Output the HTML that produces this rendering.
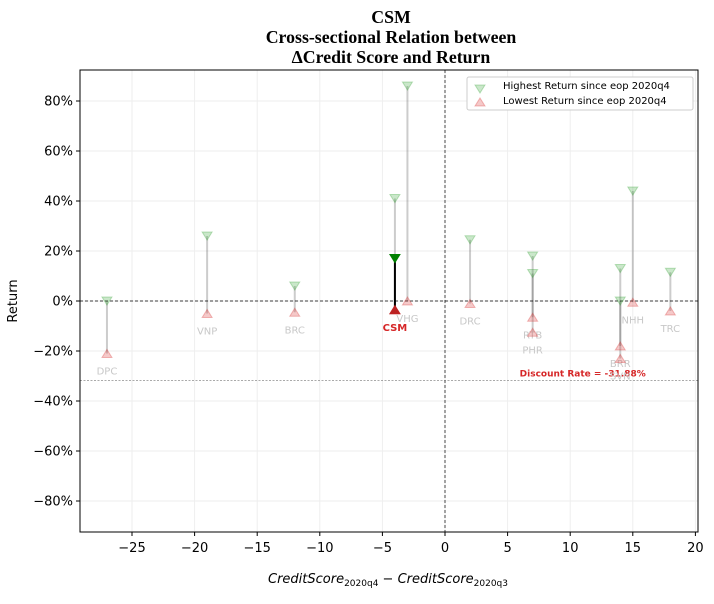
<!DOCTYPE html>
<html><head><meta charset="utf-8"><style>
body{margin:0;background:#fff;}
svg text{font-family:"DejaVu Sans","Liberation Sans",sans-serif;}
</style></head><body>
<svg id="chart" width="714" height="599" viewBox="0 0 714 599">
<g id="title" font-weight="bold" font-size="17.8" text-anchor="middle">
<text x="391" y="23" style="font-family:'Liberation Serif',serif">CSM</text>
<text x="391" y="43" style="font-family:'Liberation Serif',serif">Cross-sectional Relation between</text>
<text x="391" y="63" style="font-family:'Liberation Serif',serif">ΔCredit Score and Return</text>
</g>
<g id="grid"></g><g id="axes"></g><g id="marks"></g>
<rect x="80" y="70" width="618" height="462" fill="none" stroke="#000" stroke-width="1"/>
<text x="17" y="301" font-size="13" text-anchor="middle" transform="rotate(-90 17 301)">Return</text>
<text x="388" y="583" font-size="13" text-anchor="middle" font-style="italic">CreditScore<tspan font-size="9" dy="3" font-style="normal">2020q4</tspan><tspan dy="-3"> − CreditScore</tspan><tspan font-size="9" dy="3" font-style="normal">2020q3</tspan></text>
<g>
<rect x="467" y="77" width="226" height="33" rx="2" fill="#fff" stroke="#ccc"/>
<polygon points="475,85 485,85 480,93" fill="#2ca02c" fill-opacity="0.25" stroke="#2ca02c" stroke-opacity="0.3"/>
<text x="503" y="89" font-size="10">Highest Return since eop 2020q4</text>
<polygon points="475,106 485,106 480,98" fill="#d62728" fill-opacity="0.25" stroke="#d62728" stroke-opacity="0.3"/>
<text x="503" y="104" font-size="10">Lowest Return since eop 2020q4</text>
</g>
</svg>
<script>
const tickers=["DPC","VNP","BRC","CSM","X1","VHG","DRC","RTB","PHR","BRR","SVN","NHH","TRC"];
const deltas=[-27,-19,-12,-4,-4,-3,2,7,7,14,14,15,18];
const highs=[0,26,6,17,41,86,24.5,18,11,13,0,44,11.5];
const lows=[-21,-5,-4.5,-3.5,-3.5,0,-1,-6.5,-12.5,-18,-23,-0.5,-4];
const xTicks=[-25,-20,-15,-10,-5,0,5,10,15,20];
const yTicks=[-80,-60,-40,-20,0,20,40,60,80];
const discountRate=-31.88;
const focus="CSM";
const NS="http://www.w3.org/2000/svg";
const X=v=>445+v*12.52, Y=v=>301-v*2.5;
function mk(t,a,p){const e=document.createElementNS(NS,t);for(const k in a)e.setAttribute(k,a[k]);p.appendChild(e);return e;}
const grid=document.getElementById('grid'),axes=document.getElementById('axes'),marks=document.getElementById('marks');
xTicks.forEach(t=>{
 let g=mk('line',{x1:X(t),x2:X(t),y1:70,y2:532,stroke:'#eee','stroke-width':1},grid);
 
 
 mk('line',{x1:X(t),x2:X(t),y1:532,y2:536,stroke:'#000'},axes);
 let l=mk('text',{x:X(t),y:552,'font-size':13,'text-anchor':'middle'},axes);l.textContent=(t<0?'−':'')+Math.abs(t);
 
 
});
yTicks.forEach(t=>{
 let g=mk('line',{x1:80,x2:698,y1:Y(t),y2:Y(t),stroke:'#eee','stroke-width':1},grid);
 
 
 mk('line',{x1:76,x2:80,y1:Y(t),y2:Y(t),stroke:'#000'},axes);
 let l=mk('text',{x:73,y:Y(t)+4.5,'font-size':13,'text-anchor':'end'},axes);l.textContent=(t<0?'−':'')+Math.abs(t)+'%';
 
 
});
let h0=mk('line',{x1:80,x2:698,y1:Y(0),y2:Y(0),stroke:'#000','stroke-width':0.7,'stroke-dasharray':'3,2'},marks);


let v0=mk('line',{x1:X(0),x2:X(0),y1:70,y2:532,stroke:'#000','stroke-width':0.7,'stroke-dasharray':'3,2'},marks);


let dr=mk('line',{x1:80,x2:698,y1:Y(discountRate),y2:Y(discountRate),stroke:'#777','stroke-width':0.7,'stroke-dasharray':'2,1.5'},marks);


let dt=mk('text',{x:X(11),y:Y(discountRate)-4,'font-size':9,'font-weight':'bold',fill:'#d62728','text-anchor':'middle'},marks);
dt.textContent='Discount Rate = '+discountRate.toFixed(2)+'%';


tickers.forEach((t,i)=>{
 if(t===focus)return;
 const x=X(deltas[i]);
 let s=mk('line',{x1:x,x2:x,y1:Y(highs[i]),y2:Y(lows[i]),stroke:'#000','stroke-opacity':0.2,'stroke-width':2},marks);
 
 
});
tickers.forEach((t,i)=>{
 const f=t===focus,x=X(deltas[i]),yh=Y(highs[i]),yl=Y(lows[i]);
 if(f){let s=mk('line',{x1:x,x2:x,y1:yh,y2:yl,stroke:'#000','stroke-width':2},marks);
  
  }
 let h=mk('polygon',{points:`${x-5},${yh-4} ${x+5},${yh-4} ${x},${yh+4}`,fill:f?'#008000':'#2ca02c','fill-opacity':f?1:0.25,stroke:f?'#008000':'#2ca02c','stroke-opacity':f?1:0.3},marks);
 
 
 let l=mk('polygon',{points:`${x-5},${yl+4} ${x+5},${yl+4} ${x},${yl-4}`,fill:f?'#b22222':'#d62728','fill-opacity':f?1:0.25,stroke:f?'#b22222':'#d62728','stroke-opacity':f?1:0.3},marks);
 
 
 if(t==='X1')return;
 let lb=mk('text',{x:x,y:yl+21,'font-size':10,'text-anchor':'middle',fill:f?'#d62728':'#c8c8c8','font-weight':f?'bold':'normal'},marks);
 lb.textContent=t;
 
 
});
</script>
</body></html>
